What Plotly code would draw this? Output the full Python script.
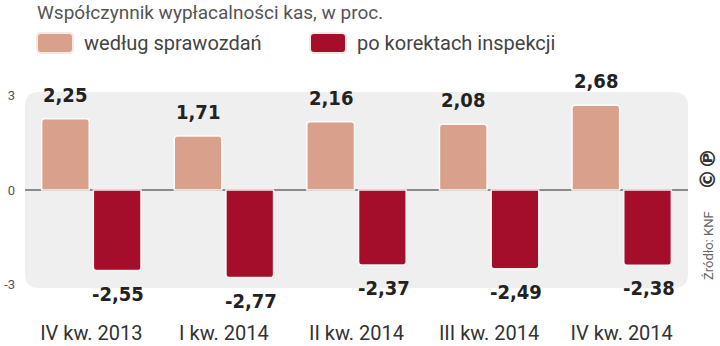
import plotly.graph_objects as go

categories = ["IV kw. 2013", "I kw. 2014", "II kw. 2014", "III kw. 2014", "IV kw. 2014"]
reported = [2.25, 1.71, 2.16, 2.08, 2.68]
corrected = [-2.55, -2.77, -2.37, -2.49, -2.38]
series_names = ["według sprawozdań", "po korektach inspekcji"]
title_text = "Współczynnik wypłacalności kas, w proc."
source_text = "Źródło: KNF"
y_ticks = [-3, 0, 3]

LIGHT = "#d9a18b"
DARK = "#a50e2a"

W, H = 720, 346
ML, MR, MT, MB = 25, 32, 92, 58
PW, PH = W - ML - MR, H - MT - MB


def px(x):
    return (x - ML) / PW


def py(y):
    return (H - MB - y) / PH


def fmt(v):
    return f"{v:.2f}".replace(".", ",")


fig = go.Figure()
for name, vals, col in [(series_names[0], reported, LIGHT), (series_names[1], corrected, DARK)]:
    fig.add_trace(go.Bar(
        x=categories, y=vals, name=name,
        marker=dict(color=col, line=dict(color="rgba(255,255,255,0.9)", width=1.5), cornerradius=3),
        showlegend=False, hoverinfo="skip",
    ))

shapes = []
# rounded background
rx, ry = 14 / PW, 14 / PH
path = (f"M {rx},0 L {1-rx},0 Q 1,0 1,{ry} L 1,{1-ry} Q 1,1 {1-rx},1 "
        f"L {rx},1 Q 0,1 0,{1-ry} L 0,{ry} Q 0,0 {rx},0 Z")
shapes.append(dict(type="path", xref="paper", yref="paper", path=path,
                   fillcolor="#efefef", line=dict(width=0), layer="below"))


def rrect(x0, y0, x1, y1, r, col):
    a, b, c, d = px(x0), py(y0), px(x1), py(y1)
    rxx, ryy = r / PW, r / PH
    p = (f"M {a+rxx},{b} L {c-rxx},{b} Q {c},{b} {c},{b-ryy} L {c},{d+ryy} Q {c},{d} {c-rxx},{d} "
         f"L {a+rxx},{d} Q {a},{d} {a},{d+ryy} L {a},{b-ryy} Q {a},{b} {a+rxx},{b} Z")
    return dict(type="path", xref="paper", yref="paper", path=p, fillcolor=col,
                line=dict(color="#f6e9e4", width=2))


shapes.append(rrect(37, 33, 73, 53, 4, LIGHT))
shapes.append(rrect(310, 33, 346, 53, 4, DARK))

annotations = []
annotations.append(dict(xref="paper", yref="paper", x=px(35), y=py(13), xanchor="left", yanchor="middle",
                        text=title_text, showarrow=False,
                        font=dict(family="Roboto", size=19, color="#555555")))
annotations.append(dict(xref="paper", yref="paper", x=px(82), y=py(43), xanchor="left", yanchor="middle",
                        text=series_names[0], showarrow=False,
                        font=dict(family="Roboto", size=20, color="#444444")))
annotations.append(dict(xref="paper", yref="paper", x=px(355), y=py(43), xanchor="left", yanchor="middle",
                        text=series_names[1], showarrow=False,
                        font=dict(family="Roboto", size=20, color="#444444")))
annotations.append(dict(xref="paper", yref="paper", x=px(708), y=py(245), xanchor="center", yanchor="middle",
                        text=source_text, textangle=-90, showarrow=False,
                        font=dict(family="Roboto", size=13, color="#666666")))
annotations.append(dict(xref="paper", yref="paper", x=px(708), y=py(169), xanchor="center", yanchor="middle",
                        text="<b>©℗</b>", textangle=-90, showarrow=False,
                        font=dict(family="DejaVu Sans", size=21, color="#333333")))

vfont = dict(family="DejaVu Sans Condensed, Liberation Sans Narrow, Arial Narrow", size=20, color="#222222")
for c, r, k in zip(categories, reported, corrected):
    annotations.append(dict(x=c, y=r, xref="x", yref="y", text=f"<b>{fmt(r)}</b>", showarrow=False,
                            xshift=-26, yshift=10, yanchor="bottom", font=vfont))
    annotations.append(dict(x=c, y=k, xref="x", yref="y", text=f"<b>{fmt(k)}</b>", showarrow=False,
                            xshift=27, yshift=-9, yanchor="top", font=vfont))

fig.update_layout(
    width=W, height=H, margin=dict(l=ML, r=MR, t=MT, b=MB),
    paper_bgcolor="white", plot_bgcolor="rgba(0,0,0,0)",
    barmode="group", bargap=0.22, bargroupgap=0.08,
    shapes=shapes, annotations=annotations,
    xaxis=dict(showgrid=False, showline=False, ticks="", ticklabelstandoff=31, automargin=False,
               tickfont=dict(family="Roboto", size=20, color="#333333")),
    yaxis=dict(range=[-3.1, 3.1], tickvals=y_ticks, ticktext=[str(t) for t in y_ticks],
               showgrid=False, zeroline=True, zerolinecolor="#8a8a8a", zerolinewidth=1.5,
               ticks="", ticklabelstandoff=9, automargin=False,
               tickfont=dict(family="Roboto", size=13, color="#555555")),
)

fig.write_html("out.html")
